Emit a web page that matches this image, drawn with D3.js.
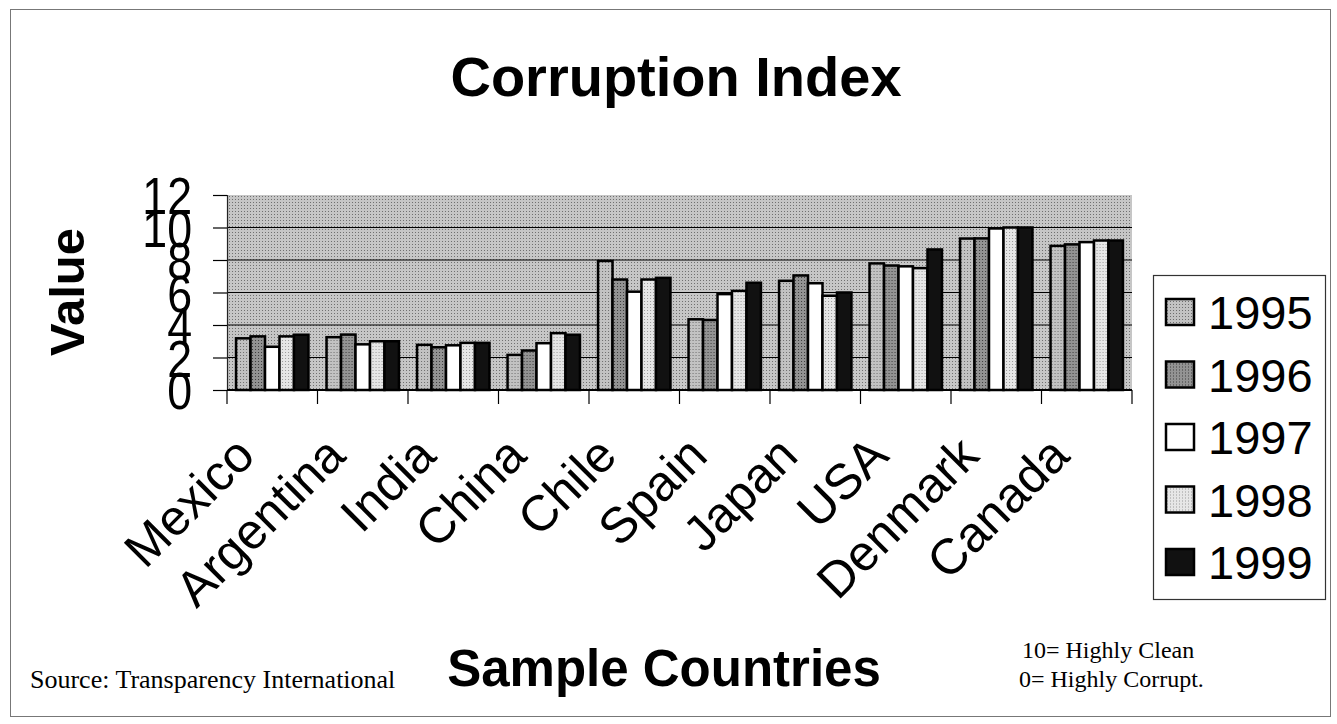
<!DOCTYPE html>
<html>
<head>
<meta charset="utf-8">
<script src="https://cdn.jsdelivr.net/npm/d3@7"></script>
<style>
  body { margin: 0; background: #fff; }
  svg text { font-family: Arial, "Liberation Sans", sans-serif; fill: #000; }
  .serif { font-family: "Times New Roman", "Liberation Serif", serif; }
</style>
</head>
<body>
<div id="chart"></div>
<script>
// data
var countries = ['Mexico','Argentina','India','China','Chile','Spain','Japan','USA','Denmark','Canada'];
var years = ['1995','1996','1997','1998','1999'];
var v1995 = [3.18, 3.25, 2.78, 2.16, 7.94, 4.35, 6.72, 7.79, 9.32, 8.87];
var v1996 = [3.30, 3.41, 2.63, 2.43, 6.80, 4.31, 7.05, 7.66, 9.33, 8.96];
var v1997 = [2.66, 2.81, 2.75, 2.88, 6.05, 5.90, 6.57, 7.61, 9.94, 9.10];
var v1998 = [3.30, 3.00, 2.90, 3.50, 6.80, 6.10, 5.80, 7.50, 10.0, 9.20];
var v1999 = [3.40, 3.00, 2.90, 3.40, 6.90, 6.60, 6.00, 8.65, 10.0, 9.20];
var yTicks = [0, 2, 4, 6, 8, 10, 12];

var series = [v1995, v1996, v1997, v1998, v1999];
var rows = countries.map(function(c, i) {
    return { country: c, vals: years.map(function(y, j) { return { year: y, value: series[j][i] }; }) };
});

var W = 1337, H = 724;
var plot = { left: 227, right: 1132, top: 195, bottom: 390 };

var svg = d3.select('#chart').append('svg').attr('width', W).attr('height', H);

// halftone-ish fills
var defs = svg.append('defs');
function dots(id, base, dot) {
    var p = defs.append('pattern').attr('id', id).attr('width', 3).attr('height', 3)
        .attr('patternUnits', 'userSpaceOnUse');
    p.append('rect').attr('width', 3).attr('height', 3).attr('fill', base);
    p.append('rect').attr('x', 1).attr('y', 1).attr('width', 1).attr('height', 1).attr('fill', dot);
    return 'url(#' + id + ')';
}
var bgFill = dots('bg', '#c6c6c6', '#707070');
var fills = {
    '1995': dots('p95', '#c2c2c2', '#6e6e6e'),
    '1996': dots('p96', '#939393', '#3c3c3c'),
    '1997': '#ffffff',
    '1998': dots('p98', '#e6e6e6', '#9a9a9a'),
    '1999': '#111111'
};

// outer frame
svg.append('rect').attr('x', 10.5).attr('y', 9.5).attr('width', 1320).attr('height', 707)
    .attr('fill', 'none').attr('stroke', '#777').attr('stroke-width', 1);

var x0 = d3.scaleBand().domain(countries).range([plot.left, plot.right])
    .paddingInner(0.2).paddingOuter(0.1);
var xb = d3.scaleBand().domain(countries).range([plot.left, plot.right]);
var x1 = d3.scaleBand().domain(years).range([0, x0.bandwidth()]);
var y = d3.scaleLinear().domain([0, 12]).range([plot.bottom, plot.top]);

// plot background
svg.append('rect').attr('x', plot.left).attr('y', plot.top)
    .attr('width', plot.right - plot.left).attr('height', plot.bottom - plot.top)
    .attr('fill', bgFill);

// gridlines
svg.append('g').selectAll('line').data(yTicks.filter(function(t) { return t > 0 && t < 12; }))
    .enter().append('line')
    .attr('x1', plot.left).attr('x2', plot.right)
    .attr('y1', function(d) { return y(d); }).attr('y2', function(d) { return y(d); })
    .attr('stroke', '#000').attr('stroke-width', 1.2);

// bars
var groups = svg.append('g').selectAll('g').data(rows).enter().append('g')
    .attr('transform', function(d) { return 'translate(' + x0(d.country) + ',0)'; });
groups.selectAll('rect').data(function(d) { return d.vals; }).enter().append('rect')
    .attr('x', function(d) { return x1(d.year); })
    .attr('y', function(d) { return y(d.value); })
    .attr('width', x1.bandwidth())
    .attr('height', function(d) { return y(0) - y(d.value); })
    .attr('fill', function(d) { return fills[d.year]; })
    .attr('stroke', '#000').attr('stroke-width', 2.5);

// y axis (tall, narrow digits like the scan)
var yaxis = d3.axisLeft(y).tickValues(yTicks).tickSize(14).tickPadding(21);
var gy = svg.append('g').attr('transform', 'translate(' + plot.left + ',0)').call(yaxis);
gy.select('.domain').attr('stroke', '#222').attr('stroke-width', 1.2);
gy.selectAll('.tick line').attr('stroke', '#000').attr('stroke-width', 1.2);
gy.selectAll('.tick text').attr('font-size', 52).attr('dy', '0.36em')
    .style('font-family', 'Arial, "Liberation Sans", sans-serif')
    .each(function() {
        var w = this.getComputedTextLength();
        d3.select(this).attr('textLength', w * 0.86).attr('lengthAdjust', 'spacingAndGlyphs');
    });

// x axis line + boundary ticks
svg.append('line').attr('x1', plot.left).attr('x2', plot.right)
    .attr('y1', plot.bottom).attr('y2', plot.bottom).attr('stroke', '#000').attr('stroke-width', 2);
var bounds = countries.map(function(c) { return xb(c); }).concat([plot.right]);
svg.append('g').selectAll('line').data(bounds).enter().append('line')
    .attr('x1', function(d) { return d; }).attr('x2', function(d) { return d; })
    .attr('y1', plot.bottom).attr('y2', plot.bottom + 14)
    .attr('stroke', '#000').attr('stroke-width', 1.2);

// category labels, rotated
svg.append('g').selectAll('text').data(countries).enter().append('text')
    .attr('text-anchor', 'end').attr('font-size', 50)
    .attr('transform', function(d) {
        var cx = xb(d) + xb.bandwidth() / 2;
        return 'translate(' + (cx - 15) + ',458) rotate(-45)';
    })
    .text(function(d) { return d; });

// titles
svg.append('text').attr('x', 676).attr('y', 96).attr('text-anchor', 'middle')
    .attr('font-size', 56).attr('font-weight', 'bold').text('Corruption Index');
svg.append('text').attr('transform', 'translate(84,292) rotate(-90)').attr('text-anchor', 'middle')
    .attr('font-size', 49).attr('font-weight', 'bold').text('Value');
svg.append('text').attr('x', 664).attr('y', 686).attr('text-anchor', 'middle')
    .attr('font-size', 51).attr('font-weight', 'bold').text('Sample Countries');

// notes
svg.append('text').attr('class', 'serif').attr('x', 30).attr('y', 688)
    .attr('font-size', 26).text('Source: Transparency International');
svg.append('text').attr('class', 'serif').attr('x', 1022).attr('y', 658)
    .attr('font-size', 24).text('10= Highly Clean');
svg.append('text').attr('class', 'serif').attr('x', 1019).attr('y', 687)
    .attr('font-size', 24).text('0= Highly Corrupt.');

// legend
var lg = svg.append('g');
lg.append('rect').attr('x', 1153.5).attr('y', 275.5).attr('width', 172).attr('height', 324)
    .attr('fill', '#fff').attr('stroke', '#333').attr('stroke-width', 1.2);
var items = lg.selectAll('g').data(years).enter().append('g')
    .attr('transform', function(d, i) { return 'translate(1166,' + (312 + i * 62.5) + ')'; });
items.append('rect').attr('x', 0).attr('y', -13).attr('width', 28).attr('height', 26)
    .attr('fill', function(d) { return fills[d]; }).attr('stroke', '#000').attr('stroke-width', 2.5);
items.append('text').attr('x', 42).attr('y', 17).attr('font-size', 47).text(function(d) { return d; });
</script>
</body>
</html>
